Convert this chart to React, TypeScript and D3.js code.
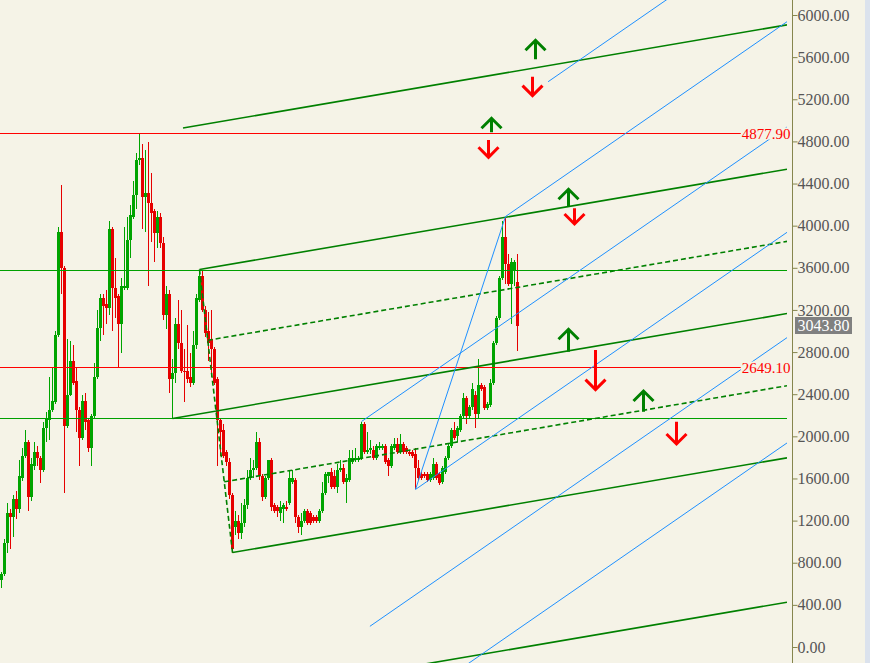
import * as d3 from 'd3'
import { useEffect, useRef } from 'react'

// weekly candles, left to right
const opens = [
    636, 684, 987, 1263, 1225, 1396, 1301, 1604, 1804, 1937, 1415, 1718, 1851, 1785, 1680, 2079, 2155, 2241, 2317, 2953,
    3931, 3589, 2098, 2392, 2715, 2516, 2250, 1975, 2326, 2146, 1880, 2184, 2554, 3019, 3313, 3247, 3218, 3959, 3408, 3323,
    3057, 3399, 3408, 3855, 4073, 4291, 4614, 4633, 4263, 4301, 4215, 4130, 3921, 4073, 3826, 3143, 3351, 2544, 2601, 3057,
    2877, 2620, 2620, 2554, 2506, 2858, 3285, 3522, 3199, 3000, 2924, 2829, 2535, 2146, 2051, 1842, 1756, 1434, 1130, 1196,
    1073, 1168, 1339, 1595, 1671, 1699, 1937, 1623, 1424, 1595, 1775, 1339, 1320, 1272, 1310, 1329, 1358, 1557, 1576, 1225,
    1130, 1187, 1282, 1263, 1225, 1225, 1196, 1291, 1462, 1623, 1652, 1623, 1510, 1671, 1690, 1557, 1576, 1747, 1766, 1766,
    1785, 2117, 1851, 1861, 1870, 1794, 1880, 1889, 1908, 1766, 1718, 1889, 1927, 1851, 1927, 1889, 1851, 1842, 1832, 1699,
    1642, 1633, 1633, 1576, 1604, 1737, 1642, 1557, 1652, 1794, 1899, 2060, 2003, 2051, 2184, 2355, 2184, 2269, 2383, 2212,
    2478, 2459, 2260, 2288, 2497, 2877, 3114, 3494, 3883, 3636, 3446, 3570, 3456,
]
const highs = [
    703, 1025, 1358, 1301, 1443, 1481, 1766, 1880, 2051, 1956, 1785, 1937, 1899, 1813, 2127, 2222, 2554, 2649, 2991, 3987,
    4386, 3608, 2915, 2896, 2858, 2649, 2269, 2392, 2411, 2165, 2203, 2696, 3199, 3342, 3351, 3380, 4044, 3978, 3684, 3351,
    3494, 3978, 4073, 4187, 4424, 4681, 4878, 4775, 4709, 4785, 4491, 4158, 4139, 4111, 3883, 3418, 3380, 2725, 3114, 3285,
    3199, 2829, 3048, 2782, 2991, 3351, 3579, 3570, 3228, 3171, 3190, 2848, 2554, 2165, 2117, 1861, 1785, 1453, 1282, 1244,
    1358, 1405, 1680, 1785, 1766, 2032, 1975, 1633, 1623, 1775, 1794, 1358, 1339, 1386, 1367, 1386, 1671, 1671, 1595, 1244,
    1272, 1310, 1310, 1282, 1244, 1244, 1310, 1557, 1661, 1661, 1690, 1671, 1737, 1766, 1737, 1642, 1861, 1861, 1880, 1813,
    2136, 2127, 2032, 1956, 1899, 1927, 1937, 1927, 1927, 1785, 1918, 1975, 1975, 2022, 1946, 1908, 1870, 1861, 1880, 1766,
    1661, 1652, 1652, 1661, 1785, 1756, 1661, 1718, 1813, 1918, 2079, 2127, 2098, 2212, 2411, 2374, 2288, 2506, 2430, 2725,
    2506, 2478, 2317, 2544, 2905, 3133, 3513, 4044, 4082, 3731, 3693, 3674, 3731,
]
const lows = [
    560, 665, 892, 930, 1044, 1215, 1272, 1567, 1785, 1291, 1386, 1671, 1718, 1548, 1661, 1937, 1965, 2222, 2298, 2934,
    3351, 1462, 2079, 2374, 2487, 2041, 1709, 1956, 2051, 1842, 1718, 2165, 2535, 2905, 2962, 3057, 3143, 3000, 3114, 2649,
    2782, 3380, 3389, 3684, 4054, 4158, 4567, 3968, 3931, 3427, 3836, 3646, 3779, 3779, 3095, 3010, 2402, 2165, 2497, 2829,
    2592, 2317, 2497, 2459, 2478, 2829, 3266, 3171, 2943, 2715, 2554, 2478, 1718, 1813, 1785, 1718, 1405, 892, 1054, 1016,
    1016, 1139, 1310, 1576, 1595, 1671, 1576, 1386, 1405, 1576, 1291, 1272, 1225, 1196, 1177, 1282, 1339, 1538, 1168, 1082,
    1063, 1168, 1149, 1158, 1168, 1177, 1177, 1272, 1443, 1548, 1491, 1491, 1462, 1652, 1538, 1367, 1557, 1728, 1747, 1747,
    1766, 1823, 1832, 1832, 1775, 1775, 1861, 1870, 1728, 1623, 1699, 1870, 1832, 1832, 1832, 1832, 1804, 1785, 1491, 1585,
    1585, 1595, 1557, 1557, 1585, 1576, 1529, 1538, 1633, 1775, 1880, 1965, 1937, 2032, 2165, 2117, 2165, 2250, 2070, 2165,
    2430, 2241, 2241, 2269, 2478, 2858, 3095, 3475, 3446, 3427, 3057, 3427, 2801,
]
const closes = [
    684, 987, 1263, 1225, 1396, 1301, 1614, 1804, 1937, 1415, 1737, 1851, 1785, 1680, 2079, 2165, 2241, 2326, 2953, 3931,
    3589, 2098, 2392, 2715, 2506, 2250, 1975, 2326, 2127, 1880, 2184, 2554, 3019, 3313, 3237, 3218, 3959, 3408, 3313, 3057,
    3418, 3427, 3855, 4092, 4291, 4614, 4633, 4263, 4301, 4215, 4120, 3921, 4073, 3826, 3143, 3351, 2544, 2601, 3057, 2877,
    2620, 2611, 2544, 2506, 2867, 3304, 3522, 3190, 2981, 2886, 2820, 2506, 2146, 2032, 1813, 1756, 1434, 930, 1196, 1073,
    1168, 1339, 1595, 1680, 1699, 1937, 1623, 1415, 1595, 1766, 1320, 1291, 1282, 1329, 1339, 1301, 1595, 1595, 1225, 1130,
    1196, 1282, 1177, 1177, 1187, 1196, 1291, 1462, 1642, 1652, 1510, 1510, 1680, 1690, 1557, 1604, 1785, 1785, 1794, 1785,
    2117, 1842, 1870, 1880, 1794, 1908, 1899, 1908, 1747, 1718, 1899, 1927, 1851, 1927, 1851, 1851, 1823, 1804, 1690, 1604,
    1604, 1614, 1576, 1642, 1737, 1595, 1548, 1699, 1794, 1899, 2060, 1984, 2070, 2193, 2355, 2193, 2269, 2440, 2212, 2478,
    2449, 2260, 2298, 2506, 2886, 3114, 3494, 3883, 3636, 3446, 3655, 3655, 3043.8,
]

// horizontal levels
const levelPrices = [4877.9, 3579, 2649.1, 2165]
const levelColors = ['#ff0000', '#00a000', '#ff0000', '#00a000']
const levelLabels = ['4877.90', '', '2649.10', '']

// pitchforks: [candle index, price] for A, B, C
const greenPivots = [[57, 2165], [66, 3579], [77, 892]]
const greenExtraLevels = [2, -2]
const greenExtraStarts = [60.5, 77]

const bluePivots = [[120, 2136], [168, 4082], [138, 1491]]
const blueExtraLevels = [2, -2, -3]
const blueExtraStarts = [182.2, 122.8, 138]

// arrows: candle index, top price, bottom price
const upArrowIdx = [177.9, 163, 188.9, 188.9, 213.9]
const upArrowTop = [5765, 5024, 4350, 3021, 2435]
const upArrowBottom = [5575, 4882, 4175, 2799, 2229]
const downArrowIdx = [176.9, 162, 190.9, 197.9, 224.9]
const downArrowTop = [5410, 4809, 4160, 2815, 2134]
const downArrowBottom = [5220, 4635, 4002, 2429, 1913]

const yTicks = d3.range(0, 6001, 400)
const lastPrice = 3043.8

const W = 870
const H = 663
const plotRight = 787
const axisX = 792.5
const bg = '#f5f3e7'
const upColor = '#00a400'
const downColor = '#e60000'
const lineGreen = '#008000'
const lineBlue = '#1e90ff'
const font = '"Liberation Serif", "Times New Roman", serif'

export default function App() {
    const svgRef = useRef<SVGSVGElement>(null)

    useEffect(() => {
        if (!svgRef.current) return
        const svg = d3.select(svgRef.current)
        svg.selectAll('*').remove()

        const x = d3.scaleLinear().domain([0, 262]).range([1.5, 787.5])
        const y = d3.scaleLinear().domain([0, 6000]).range([646.5, 14.5])
        const endIdx = x.invert(plotRight)

        svg.append('rect').attr('width', W).attr('height', H).attr('fill', bg)

        svg.append('defs')
            .append('clipPath')
            .attr('id', 'plot-clip')
            .append('rect')
            .attr('width', plotRight)
            .attr('height', H)

        const plot = svg.append('g').attr('clip-path', 'url(#plot-clip)')

        // candles
        const idx = d3.range(opens.length)
        const col = (i: number) => (closes[i] >= opens[i] ? upColor : downColor)
        const candles = plot.append('g').attr('shape-rendering', 'crispEdges')
        candles
            .selectAll('line')
            .data(idx)
            .join('line')
            .attr('x1', (i) => x(i))
            .attr('x2', (i) => x(i))
            .attr('y1', (i) => y(highs[i]))
            .attr('y2', (i) => y(lows[i]))
            .attr('stroke', col)
        candles
            .selectAll('rect')
            .data(idx)
            .join('rect')
            .attr('x', (i) => x(i) - 1.5)
            .attr('width', 3)
            .attr('y', (i) => y(Math.max(opens[i], closes[i])))
            .attr('height', (i) =>
                Math.max(1, Math.abs(y(opens[i]) - y(closes[i])))
            )
            .attr('fill', col)

        // horizontal levels
        levelPrices.forEach((p, k) => {
            const yy = Math.round(y(p)) + 0.5
            plot.append('line')
                .attr('x1', 0)
                .attr('x2', plotRight)
                .attr('y1', yy)
                .attr('y2', yy)
                .attr('stroke', levelColors[k])
                .attr('stroke-width', 1)
                .attr('shape-rendering', 'crispEdges')
        })

        // pitchfork builder
        const drawFork = (
            pivots: number[][],
            extraLevels: number[],
            extraStarts: number[],
            color: string,
            halves: boolean,
            handleDash: string | null,
            width: number
        ) => {
            const [a, b, c] = pivots
            const mi = (b[0] + c[0]) / 2
            const mp = (b[1] + c[1]) / 2
            const k = (mp - a[1]) / (mi - a[0])
            const h = b[1] - (a[1] + k * (b[0] - a[0]))
            const priceAt = (level: number, i: number) =>
                a[1] + k * (i - a[0]) + level * h

            const lines: { level: number; start: number; dash: string | null }[] = [
                { level: 0, start: a[0], dash: null },
                { level: 1, start: b[0], dash: null },
                { level: -1, start: c[0], dash: null },
            ]
            if (halves) {
                lines.push({ level: 0.5, start: (b[0] + mi) / 2, dash: '5,3' })
                lines.push({ level: -0.5, start: (c[0] + mi) / 2, dash: '5,3' })
            }
            extraLevels.forEach((l, n) =>
                lines.push({ level: l, start: extraStarts[n], dash: null })
            )

            lines.forEach((ln) => {
                plot.append('line')
                    .attr('x1', x(ln.start))
                    .attr('y1', y(priceAt(ln.level, ln.start)))
                    .attr('x2', x(endIdx))
                    .attr('y2', y(priceAt(ln.level, endIdx)))
                    .attr('stroke', color)
                    .attr('stroke-width', width)
                    .attr('stroke-dasharray', ln.dash)
            })

            plot.append('line')
                .attr('x1', x(b[0]))
                .attr('y1', y(b[1]))
                .attr('x2', x(c[0]))
                .attr('y2', y(c[1]))
                .attr('stroke', color)
                .attr('stroke-width', width)
                .attr('stroke-dasharray', handleDash)
        }

        drawFork(greenPivots, greenExtraLevels, greenExtraStarts, lineGreen, true, '5,3', 1.6)
        drawFork(bluePivots, blueExtraLevels, blueExtraStarts, lineBlue, false, null, 1)

        // level labels
        levelLabels.forEach((label, k) => {
            if (!label) return
            const yy = Math.round(y(levelPrices[k])) + 0.5
            const t = svg.append('text')
                .attr('x', 790.5)
                .attr('y', yy)
                .attr('dy', '0.35em')
                .attr('text-anchor', 'end')
                .attr('font-family', font)
                .attr('font-size', 15)
                .attr('fill', levelColors[k])
                .text(label)
            const w = (t.node() as SVGTextElement).getComputedTextLength()
            svg.insert('rect', () => t.node())
                .attr('x', 790.5 - w - 1)
                .attr('y', yy - 6)
                .attr('width', w - 2)
                .attr('height', 12)
                .attr('fill', bg)
        })

        // arrows
        const arrows = svg.append('g')
            .attr('fill', 'none')
            .attr('stroke-width', 3)
            .attr('stroke-linejoin', 'miter')
        upArrowIdx.forEach((ai, n) => {
            const cx = Math.round(x(ai)) + 0.5
            const t = y(upArrowTop[n])
            const bt = y(upArrowBottom[n])
            arrows.append('path')
                .attr('d', `M${cx},${t + 1}V${bt}M${cx - 10},${t + 11}L${cx},${t + 1}L${cx + 10},${t + 11}`)
                .attr('stroke', lineGreen)
        })
        downArrowIdx.forEach((ai, n) => {
            const cx = Math.round(x(ai)) + 0.5
            const t = y(downArrowTop[n])
            const bt = y(downArrowBottom[n])
            arrows.append('path')
                .attr('d', `M${cx},${t}V${bt - 1}M${cx - 10},${bt - 11}L${cx},${bt - 1}L${cx + 10},${bt - 11}`)
                .attr('stroke', '#ff0000')
        })

        // price axis
        svg.append('line')
            .attr('x1', axisX)
            .attr('x2', axisX)
            .attr('y1', 0)
            .attr('y2', H)
            .attr('stroke', '#86864e')
        const axis = svg.append('g')
            .attr('transform', `translate(${axisX},0.5)`)
            .call(
                d3.axisRight(y)
                    .tickValues(yTicks)
                    .tickFormat(d3.format('.2f'))
                    .tickSize(5)
                    .tickPadding(0)
                    .tickSizeOuter(0)
            )
        axis.select('.domain').remove()
        axis.selectAll('line').attr('stroke', '#86864e')
        axis.selectAll('text')
            .attr('font-family', font)
            .attr('font-size', 16)
            .attr('fill', '#555')

        // last price tag
        const ly = y(lastPrice)
        const tag = svg.append('text')
            .attr('x', 797.5)
            .attr('y', ly)
            .attr('dy', '0.32em')
            .attr('font-family', font)
            .attr('font-size', 16)
            .attr('fill', '#ffffff')
            .text(d3.format('.2f')(lastPrice))
        const tw = (tag.node() as SVGTextElement).getComputedTextLength()
        svg.insert('rect', () => tag.node())
            .attr('x', 795)
            .attr('y', Math.round(ly) - 9)
            .attr('width', tw + 5)
            .attr('height', 17)
            .attr('fill', '#808080')

        // right edge strip
        svg.append('rect')
            .attr('x', 865)
            .attr('width', 5)
            .attr('height', H)
            .attr('fill', '#dbe2ed')
    }, [])

    return (
        <div style={{ position: 'absolute', left: 0, top: 0 }}>
            <svg ref={svgRef} width={W} height={H} style={{ display: 'block' }} />
        </div>
    )
}
